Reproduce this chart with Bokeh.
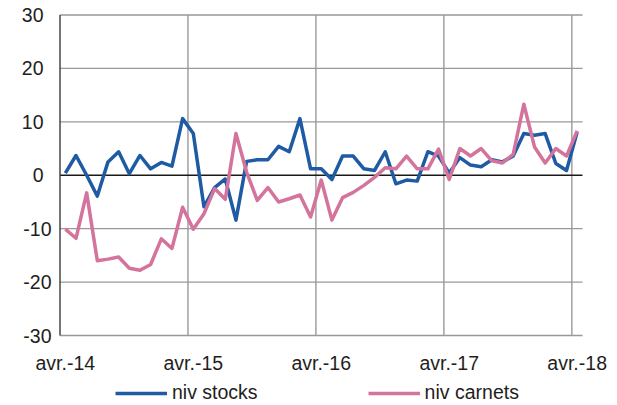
from bokeh.plotting import figure
from bokeh.models import Range1d, Legend, LegendItem
from bokeh.core.properties import value
from bokeh.embed import file_html
from bokeh.resources import INLINE

# ---- data -------------------------------------------------------------
month_names = ["avr.", "mai", "juin", "juil.", "août", "sept.", "oct.", "nov.", "déc.",
               "janv.", "févr.", "mars"]
years = ["14", "15", "16", "17", "18"]
categories = [f"{month_names[k % 12]}-{years[(k + 3) // 12]}" for k in range(49)]

niv_stocks = [0.4, 3.7, 0.0, -3.9, 2.5, 4.4, 0.3, 3.7, 1.2, 2.4, 1.7,
              10.6, 7.8, -5.9, -2.3, -0.7, -8.4, 2.6, 2.9, 2.9, 5.4, 4.4, 10.6, 1.2, 1.2, -0.8,
              3.6, 3.6, 1.2, 0.9, 4.4, -1.6, -0.9, -1.1, 4.4, 3.6, 0.4,
              3.3, 1.9, 1.6, 2.9, 2.5, 3.6, 7.8, 7.5, 7.8, 2.2, 0.9, 8.1]
niv_carnets = [-10.1, -11.8, -3.3, -16.0, -15.7, -15.3, -17.4, -17.8, -16.7, -11.9, -13.7, -6.0,
               -10.1, -7.2, -2.5, -4.5, 7.8, 0.6, -4.7, -2.3, -5.0, -4.4, -3.7, -7.8, -0.9, -8.4,
               -4.2, -3.2, -1.9, -0.4, 1.4, 1.2, 3.6, 1.2, 1.2, 4.9, -0.8,
               5.0, 3.6, 5.0, 2.7, 2.3, 3.9, 13.3, 5.3, 2.3, 5.0, 3.6, 8.3]
series_names = ["niv stocks", "niv carnets"]
y_ticks = [-30, -20, -10, 0, 10, 20, 30]
y_tick_labels = [str(t) for t in y_ticks]

x = list(range(len(categories)))
tick_idx = [i for i, c in enumerate(categories) if c.startswith("avr.")]
tick_labels = [categories[i] for i in tick_idx]

# ---- styles / layout ----------------------------------------------------
FONT = "Liberation Sans"
FS = "19.5px"
TXT = "#1e1e1e"
GRID = "#999999"
AXIS = "#3a3a3a"
BLUE = "#1F5BA5"
PINK = "#D4739B"

W, H = 617, 405
PLOT_L, PLOT_R, PLOT_T, PLOT_B = 59.5, 582.0, 14.5, 335.0   # plotting area in pixels

x_left, x_right = -0.5, len(categories) - 0.5
y_lo, y_hi = y_ticks[0], y_ticks[-1]
ppx = (PLOT_R - PLOT_L) / (x_right - x_left)
ppy = (PLOT_B - PLOT_T) / (y_hi - y_lo)
xr = Range1d(x_left - PLOT_L / ppx, x_right + (W - PLOT_R) / ppx)
yr = Range1d(y_lo - (H - PLOT_B) / ppy, y_hi + PLOT_T / ppy)

p = figure(frame_width=W, frame_height=H, output_backend="svg", toolbar_location=None,
           x_axis_location=None, y_axis_location=None, x_range=xr, y_range=yr,
           min_border_left=0, min_border_right=0, min_border_top=0, min_border_bottom=0)
p.outline_line_color = None
p.background_fill_color = "white"
p.border_fill_color = "white"
p.xgrid.visible = False
p.ygrid.visible = False

# horizontal grid lines (the -30 one doubles as the x axis line)
hg = [t for t in y_ticks if t != 0]
p.segment(x0=[x_left] * len(hg), x1=[x_right] * len(hg), y0=hg, y1=hg,
          line_color=GRID, line_width=1.4)
# vertical grid lines on the boundaries between months
vg = [i - 0.5 for i in tick_idx[1:]]
p.segment(x0=vg, x1=vg, y0=[y_lo] * len(vg), y1=[y_hi] * len(vg),
          line_color=GRID, line_width=1.4)
# zero line and left axis line
p.segment(x0=[x_left], x1=[x_right], y0=[0], y1=[0], line_color="#1a1a1a", line_width=1.6)
p.segment(x0=[x_left], x1=[x_left], y0=[y_lo], y1=[y_hi], line_color=AXIS, line_width=1.4)

# y tick labels (negative labels sit a little closer to the axis, as in the source)
p.text(x=[x_left] * len(y_ticks), y=y_ticks, text=y_tick_labels,
       x_offset=[-8.5 if t < 0 else -16.5 for t in y_ticks],
       text_align="right", text_baseline="middle",
       text_font=value(FONT), text_font_size=FS, text_color=TXT)

# x tick labels, centred on their month, under the -30 line
p.text(x=tick_idx, y=[y_lo] * len(tick_idx), text=tick_labels, y_offset=27,
       text_align="center", text_baseline="middle",
       text_font=value(FONT), text_font_size=FS, text_color=TXT)

r1 = p.line(x, niv_stocks, line_color=BLUE, line_width=3.5, line_join="round")
r2 = p.line(x, niv_carnets, line_color=PINK, line_width=3.5, line_join="round")

legend = Legend(items=[LegendItem(label=series_names[0], renderers=[r1]),
                       LegendItem(label=series_names[1], renderers=[r2])],
                orientation="horizontal", location=(115, 1),
                glyph_width=52, glyph_height=20, label_standoff=5, spacing=110,
                padding=0, margin=0, border_line_color=None, background_fill_alpha=0,
                label_text_font=FONT, label_text_font_size=FS, label_text_color=TXT)
p.add_layout(legend)

open("out.html", "w").write(file_html(p, INLINE))
